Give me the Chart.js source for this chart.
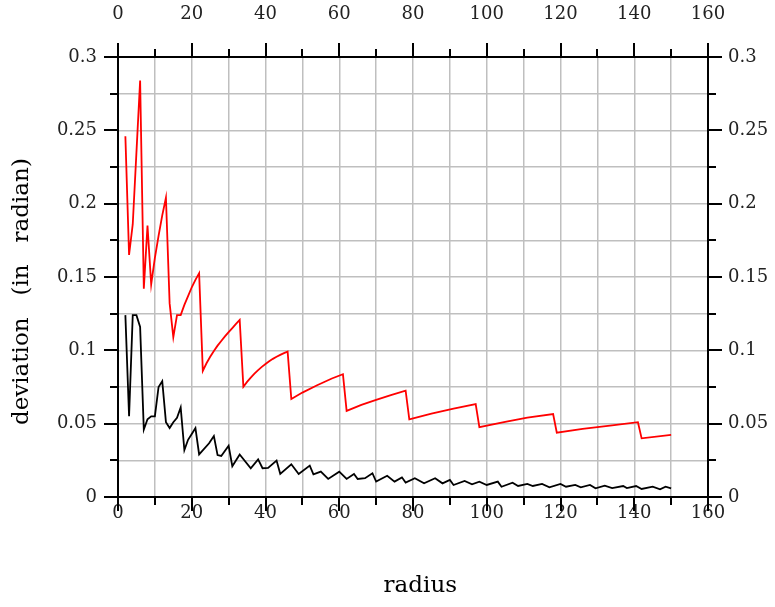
<!DOCTYPE html>
<html>
<head>
<meta charset="utf-8">
<script src="https://cdn.jsdelivr.net/npm/chart.js@4"></script>
<style>
  html, body { margin: 0; padding: 0; background: #fff; }
  #wrap { width: 775px; height: 607px; }
</style>
</head>
<body>
<div id="wrap"><canvas id="chart" width="775" height="607"></canvas></div>
<script>
  // tick labels
  const xLabels = [0, 20, 40, 60, 80, 100, 120, 140, 160];
  const yLabels = [0, 0.05, 0.1, 0.15, 0.2, 0.25, 0.3];

  // red curve
  const redRadius = [2, 3, 4, 5, 6, 7, 8, 9, 10, 11, 12, 13, 14, 15, 16, 17, 18, 19, 20, 21, 22,
    23, 24, 25, 26, 27, 28, 29, 30, 31, 32, 33,
    34, 35, 36, 37, 38, 39, 40, 41, 42, 43, 44, 45, 46,
    47, 50, 54, 58, 61,
    62, 66, 70, 74, 78,
    79, 85, 91, 97,
    98, 105, 111, 118,
    119, 126, 134, 141,
    142, 150];
  const redDev = [0.246, 0.165, 0.186, 0.235, 0.284, 0.142, 0.185, 0.145, 0.163, 0.178, 0.192, 0.204, 0.132, 0.109, 0.124, 0.124, 0.131, 0.137, 0.143, 0.148, 0.1526,
    0.086, 0.0912, 0.0956, 0.0996, 0.1032, 0.1064, 0.1095, 0.1124, 0.1152, 0.118, 0.1207,
    0.0752, 0.0785, 0.0814, 0.0841, 0.0865, 0.0887, 0.0907, 0.0925, 0.0942, 0.0956, 0.0969, 0.0981, 0.0991,
    0.0668, 0.0712, 0.0762, 0.0808, 0.0837,
    0.0587, 0.0628, 0.0662, 0.0695, 0.0725,
    0.053, 0.0568, 0.0603, 0.0634,
    0.0476, 0.0512, 0.0541, 0.0566,
    0.0439, 0.0465, 0.0489, 0.051,
    0.04, 0.0423];

  // black curve
  const blackRadius = [2, 3, 4, 5, 6, 7, 8, 9, 10, 11, 12, 13, 14, 15, 16, 17, 18, 19, 20, 21, 22,
    24.7, 26, 27, 28, 30, 31, 33, 36, 38, 39.2, 40.7, 43, 44,
    47, 49, 52, 53, 55, 57, 60, 62, 64, 65, 67, 69, 70, 73, 75, 77, 78,
    80.5, 83, 86, 88, 90, 91, 94, 96, 98, 100, 103, 104, 107, 108.5,
    111, 112.5, 115, 117, 120, 121.5, 124, 125.5, 128, 129.5, 132, 134,
    137, 138, 140.5, 142, 145, 147, 148.5, 150];
  const blackDev = [0.124, 0.055, 0.124, 0.124, 0.116, 0.046, 0.053, 0.055, 0.055, 0.075, 0.079, 0.051, 0.047, 0.051, 0.054, 0.061, 0.032, 0.039, 0.043, 0.047, 0.029,
    0.0366, 0.0416, 0.0286, 0.028, 0.035, 0.021, 0.029, 0.0196, 0.0257, 0.0196, 0.0198, 0.0248, 0.0158,
    0.0223, 0.0157, 0.0214, 0.0155, 0.0173, 0.0123, 0.0173, 0.0123, 0.0157, 0.0123, 0.0128, 0.0162, 0.0105, 0.0145, 0.0105, 0.0134, 0.0098,
    0.0128, 0.0093, 0.0128, 0.0093, 0.0116, 0.0082, 0.0109, 0.0087, 0.0105, 0.0082, 0.0105, 0.007, 0.0098, 0.0075,
    0.0089, 0.0075, 0.0089, 0.0066, 0.0089, 0.007, 0.0082, 0.0066, 0.0082, 0.0059, 0.0077, 0.0061,
    0.0075, 0.0061, 0.0075, 0.0055, 0.007, 0.0052, 0.007, 0.0059];

  const FONT = "'DejaVu Serif', serif";
  const tickFont = { family: FONT, size: 18 };
  const titleFont = { family: FONT, size: 23 };

  function pts(xs, ys) {
    return xs.map(function (x, i) { return { x: x, y: ys[i] }; });
  }
  function isLabel(list, v) {
    return list.some(function (l) { return Math.abs(l - v) < 1e-9; });
  }
  function fmt(v) {
    return String(+v.toFixed(3));
  }

  // outward tick marks on all four sides, long at labels, short between
  const tickMarks = {
    id: "tickMarks",
    afterDraw(chart) {
      const ctx = chart.ctx;
      const xs = chart.scales.x, ys = chart.scales.y;
      const a = chart.chartArea;
      ctx.save();
      ctx.strokeStyle = "#000";
      ctx.lineWidth = 2;
      ctx.beginPath();
      xs.ticks.forEach(function (t) {
        const px = Math.round(xs.getPixelForValue(t.value));
        const len = isLabel(xLabels, t.value) ? 14 : 8;
        ctx.moveTo(px, a.bottom); ctx.lineTo(px, a.bottom + len);
        ctx.moveTo(px, a.top); ctx.lineTo(px, a.top - len);
      });
      ys.ticks.forEach(function (t) {
        const py = Math.round(ys.getPixelForValue(t.value));
        const len = isLabel(yLabels, t.value) ? 14 : 8;
        ctx.moveTo(a.left, py); ctx.lineTo(a.left - len, py);
        ctx.moveTo(a.right, py); ctx.lineTo(a.right + len, py);
      });
      ctx.stroke();
      ctx.restore();
    }
  };

  const ctx = document.getElementById("chart").getContext("2d");
  const chart = new Chart(ctx, {
    type: "line",
    data: {
      datasets: [
        {
          label: "red",
          data: pts(redRadius, redDev),
          borderColor: "#ff0000",
          borderWidth: 1.8,
          pointRadius: 0,
          tension: 0,
        },
        {
          label: "black",
          data: pts(blackRadius, blackDev),
          borderColor: "#000000",
          borderWidth: 1.8,
          pointRadius: 0,
          tension: 0,
        },
      ],
    },
    options: {
      responsive: false,
      animation: false,
      devicePixelRatio: 1,
      layout: { padding: 0 },
      plugins: { legend: { display: false }, tooltip: { enabled: false } },
      scales: {
        x: {
          type: "linear", position: "bottom", min: 0, max: 160,
          afterFit: function (s) { s.height = 110; },
          ticks: { stepSize: 10, autoSkip: false, maxRotation: 0, padding: 6, color: "#222", font: tickFont,
            callback: function (v) { return isLabel(xLabels, v) ? String(v) : ""; } },
          grid: { color: "#bfbfbf", lineWidth: 1.5, drawTicks: false },
          border: { color: "#000", width: 2 },
          title: { display: true, text: "  radius", color: "#000", font: titleFont, padding: { top: 0, bottom: 7 } },
        },
        xTop: {
          type: "linear", position: "top", min: 0, max: 160,
          afterFit: function (s) { s.height = 57; },
          ticks: { stepSize: 10, autoSkip: false, maxRotation: 0, padding: 32, color: "#222", font: tickFont,
            callback: function (v) { return isLabel(xLabels, v) ? String(v) : ""; } },
          grid: { display: false, drawTicks: false },
          border: { color: "#000", width: 2 },
        },
        y: {
          type: "linear", position: "left", min: 0, max: 0.3,
          afterFit: function (s) { s.width = 118; },
          ticks: { stepSize: 0.025, autoSkip: false, padding: 21, color: "#222", font: tickFont,
            callback: function (v) { return isLabel(yLabels, v) ? fmt(v) : ""; } },
          grid: { color: "#bfbfbf", lineWidth: 1.5, drawTicks: false },
          border: { color: "#000", width: 2 },
          title: { display: true, text: "deviation   (in   radian)    ", color: "#000", font: titleFont, padding: { top: 8, bottom: 0 } },
        },
        yRight: {
          type: "linear", position: "right", min: 0, max: 0.3,
          afterFit: function (s) { s.width = 67; },
          ticks: { stepSize: 0.025, autoSkip: false, padding: 20, color: "#222", font: tickFont,
            callback: function (v) { return isLabel(yLabels, v) ? fmt(v) : ""; } },
          grid: { display: false, drawTicks: false },
          border: { color: "#000", width: 2 },
        },
      },
    },
    plugins: [tickMarks],
  });
</script>
</body>
</html>
